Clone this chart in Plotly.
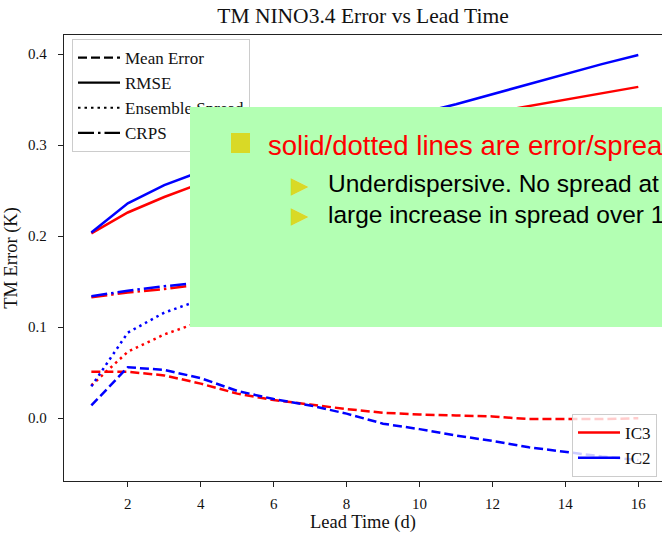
import plotly.graph_objects as go

# ---------------- data ----------------
lead = list(range(1, 17))

ic3_mean = [0.051, 0.051, 0.047, 0.038, 0.027, 0.020, 0.015, 0.010, 0.006, 0.004,
            0.003, 0.002, -0.001, -0.001, -0.001, 0.000]
ic2_mean = [0.014, 0.056, 0.053, 0.044, 0.030, 0.021, 0.014, 0.005, -0.006, -0.012,
            -0.019, -0.025, -0.032, -0.037, -0.042, -0.046]
ic3_rmse = [0.203, 0.226, 0.243, 0.258, 0.272, 0.284, 0.295, 0.305, 0.314, 0.322,
            0.329, 0.336, 0.343, 0.350, 0.357, 0.364]
ic2_rmse = [0.204, 0.236, 0.256, 0.271, 0.284, 0.296, 0.307, 0.317, 0.326, 0.335,
            0.345, 0.356, 0.367, 0.378, 0.389, 0.399]
ic3_spread = [0.036, 0.073, 0.092, 0.106, 0.116, 0.125, 0.133, 0.140, 0.147, 0.153,
              0.159, 0.165, 0.170, 0.175, 0.180, 0.185]
ic2_spread = [0.035, 0.094, 0.116, 0.130, 0.141, 0.151, 0.160, 0.168, 0.176, 0.184,
              0.191, 0.198, 0.205, 0.212, 0.218, 0.224]
ic3_crps = [0.133, 0.138, 0.142, 0.147, 0.152, 0.157, 0.162, 0.167, 0.172, 0.177,
            0.182, 0.187, 0.192, 0.197, 0.202, 0.206]
ic2_crps = [0.134, 0.140, 0.145, 0.149, 0.154, 0.159, 0.164, 0.169, 0.174, 0.180,
            0.186, 0.192, 0.198, 0.204, 0.210, 0.216]

metric_keys = ["mean", "rmse", "spread", "crps"]
metric_labels = ["Mean Error", "RMSE", "Ensemble Spread", "CRPS"]
series_names = ["IC3", "IC2"]

x_tick_vals = [2, 4, 6, 8, 10, 12, 14, 16]
y_tick_vals = [0.0, 0.1, 0.2, 0.3, 0.4]
y_tick_text = ["0.0", "0.1", "0.2", "0.3", "0.4"]

title_text = "TM NINO3.4 Error vs Lead Time"
x_title = "Lead Time (d)"
y_title = "TM Error (K)"
note_head = "solid/dotted lines are error/spread"
note_items = ["Underdispersive. No spread at", "large increase in spread over 1st"]

# ---------------- styles ----------------
RED = "#ff0000"
BLUE = "#0000ff"
DASH = {"mean": "9px,4px", "rmse": "solid", "spread": "2.5px,4px",
        "crps": "16px,4px,2.5px,4px"}
SERIF = "Liberation Serif"
SANS = "Liberation Sans"
GREEN_BOX = "#b3ffb3"
BULLET = "#d9d926"

data = {
    "IC3": {"mean": ic3_mean, "rmse": ic3_rmse, "spread": ic3_spread, "crps": ic3_crps},
    "IC2": {"mean": ic2_mean, "rmse": ic2_rmse, "spread": ic2_spread, "crps": ic2_crps},
}
colors = {"IC3": RED, "IC2": BLUE}

W, H = 662, 533
L, R, T, B = 64, 0, 35, 52
PW, PH = W - L - R, H - T - B


def px(xp):
    return (xp - L) / PW


def py(yp):
    return (H - B - yp) / PH


fig = go.Figure()

for name in series_names:
    for key in metric_keys:
        fig.add_trace(go.Scatter(
            x=lead, y=data[name][key], mode="lines",
            line=dict(color=colors[name], width=2.5, dash=DASH[key]),
            showlegend=False, hoverinfo="skip"))

# legend 1: line styles
for key, lab in zip(metric_keys, metric_labels):
    fig.add_trace(go.Scatter(
        x=[None], y=[None], mode="lines", name=lab,
        line=dict(color="black", width=2.2, dash=DASH[key]),
        showlegend=True, legend="legend"))

# legend 2: runs
for name in series_names:
    fig.add_trace(go.Scatter(
        x=[None], y=[None], mode="lines", name=name,
        line=dict(color=colors[name], width=2.5),
        showlegend=True, legend="legend2"))

axis_common = dict(
    showgrid=False, zeroline=False, showline=True, linecolor="#222222",
    linewidth=1.3, ticks="outside", ticklen=5, tickwidth=1.2, automargin=True,
    tickcolor="#222222", tickfont=dict(family=SERIF, size=15, color="#111111"),
)

legend_common = dict(bgcolor="rgba(255,255,255,0.8)", bordercolor="#cccccc",
                     borderwidth=1, font=dict(family=SERIF, size=17, color="#111111"),
                     tracegroupgap=0, itemwidth=42)

fig.update_layout(
    width=W, height=H,
    margin=dict(l=L, r=R, t=T, b=B, autoexpand=False),
    paper_bgcolor="white", plot_bgcolor="white",
    title=dict(text=title_text, x=363 / W, xanchor="center", xref="container",
               y=1 - 15.5 / H, yanchor="middle",
               font=dict(family=SERIF, size=21.5, color="#111111")),
    xaxis=dict(range=[0.25, 16.65], tickvals=x_tick_vals, mirror=True,
               title=dict(text=x_title, standoff=10,
                          font=dict(family=SERIF, size=18.5, color="#111111")),
               ticklabelstandoff=4, **axis_common),
    yaxis=dict(range=[-0.069, 0.421], tickvals=y_tick_vals, ticktext=y_tick_text,
               title=dict(text=y_title, standoff=5,
                          font=dict(family=SERIF, size=18.5, color="#111111")),
               ticklabelstandoff=8, **axis_common),
    legend=dict(x=px(72), y=py(39), xanchor="left", yanchor="top", **legend_common),
    legend2=dict(x=px(657), y=py(414), xanchor="right", yanchor="top", **legend_common),
)

# overlay box (annotation so that it also covers the legend)
fig.add_annotation(xref="paper", yref="paper", x=px(190), y=py(107),
                   xanchor="left", yanchor="top", text=" ", showarrow=False,
                   width=490, height=220, bgcolor=GREEN_BOX, borderpad=0,
                   borderwidth=0, align="left")
# square bullet
fig.add_annotation(xref="paper", yref="paper", x=px(231), y=py(133),
                   xanchor="left", yanchor="top", text=" ", showarrow=False,
                   width=19, height=20, bgcolor=BULLET, borderpad=0, borderwidth=0,
                   font=dict(size=10))
fig.add_annotation(xref="paper", yref="paper", x=px(266), y=py(145),
                   xanchor="left", yanchor="middle", text=note_head, showarrow=False,
                   font=dict(family=SANS, size=27.5, color=RED))
for i, item in enumerate(note_items):
    yc = 185 + 30 * i
    fig.add_annotation(xref="paper", yref="paper", x=px(299.5), y=py(yc),
                       xanchor="center", yanchor="middle", text="\u25B6",
                       showarrow=False,
                       font=dict(family="DejaVu Sans", size=23, color=BULLET))
    fig.add_annotation(xref="paper", yref="paper", x=px(326), y=py(yc - 1),
                       xanchor="left", yanchor="middle", text=item, showarrow=False,
                       font=dict(family=SANS, size=24.5, color="black"))

fig.write_html("out.html")
